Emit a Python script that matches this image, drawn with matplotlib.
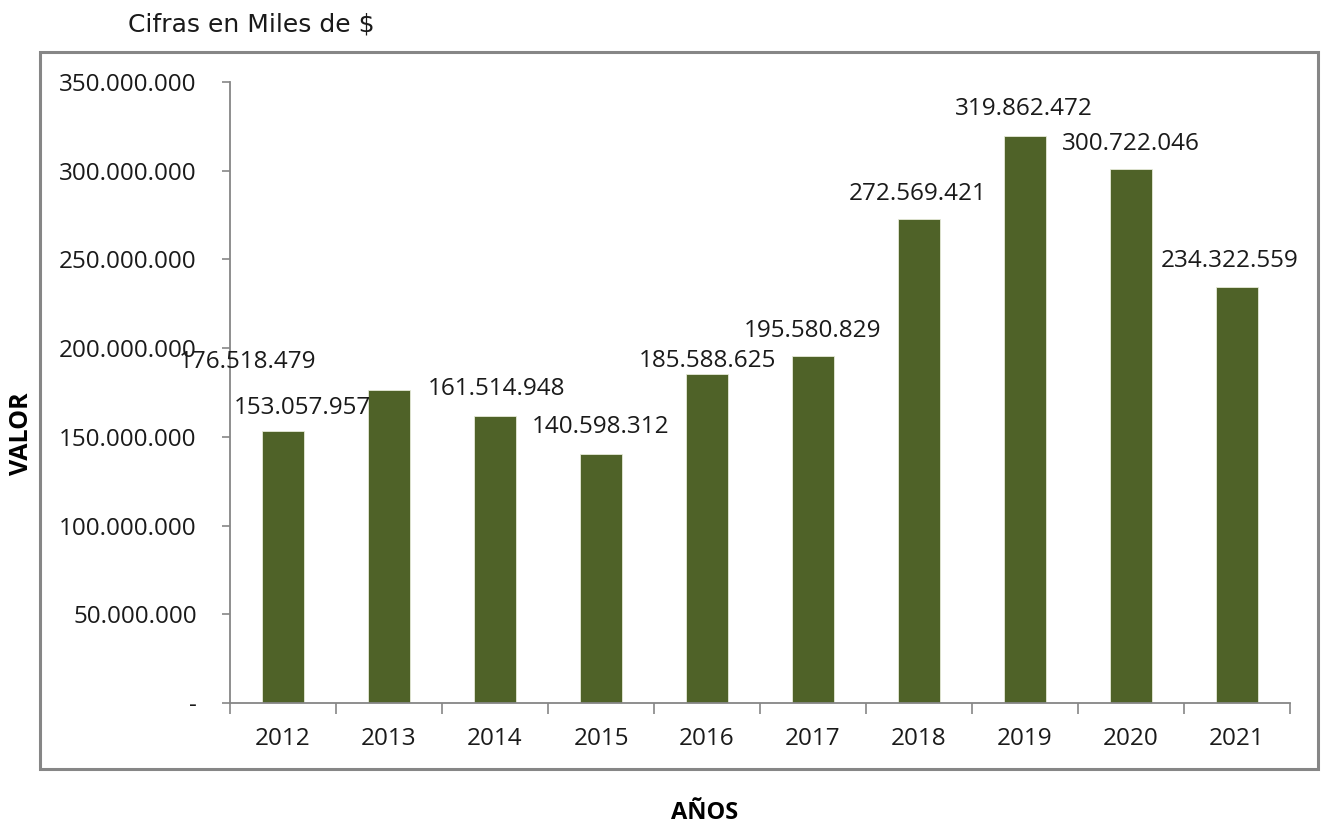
import matplotlib
matplotlib.use("Agg")
from matplotlib import pyplot as plt
from matplotlib.patches import Rectangle
from matplotlib.ticker import FuncFormatter
import numpy as np

anios = ["2012", "2013", "2014", "2015", "2016", "2017", "2018", "2019", "2020", "2021"]
valores = [153057957, 176518479, 161514948, 140598312, 185588625,
           195580829, 272569421, 319862472, 300722046, 234322559]

# desplazamiento manual de las etiquetas (puntos), como en el grafico original
etiq_dx = [14, -102, 1, 0, 0, 0, -1, -1, 0, -5]
etiq_dy = [17, 20, 20, 19, 9, 18, 18, 19, 18, 19]

plt.rcParams['font.family'] = ['Open Sans', 'DejaVu Sans']

fig = plt.figure(figsize=(13.25, 8.27), dpi=100)
ax = fig.add_axes([0.1736, 0.1499, 0.8, 0.7509])

x = np.arange(len(anios))
barras = ax.bar(x, valores, width=0.4, color='#4f6228', edgecolor='#e6ead8', linewidth=0.6)

for i, v in enumerate(valores):
    ax.annotate(f"{v:,}".replace(",", "."), (x[i], v), xytext=(etiq_dx[i], etiq_dy[i]),
                textcoords='offset points', ha='center', va='center',
                fontsize=17.5, color='#1a1a1a')

ax.set_xlim(-0.5, len(anios) - 0.5)
ax.set_ylim(0, 350000000)
ax.set_yticks(np.arange(0, 350000001, 50000000))
ax.yaxis.set_major_formatter(FuncFormatter(
    lambda v, p: "-" if v == 0 else f"{v:,.0f}".replace(",", ".")))

ax.set_xticks(np.arange(-0.5, len(anios), 1))
ax.set_xticklabels([])
ax.set_xticks(x, minor=True)
ax.set_xticklabels(anios, minor=True)
ax.tick_params(axis='x', which='major', length=8, width=1.2, color='#868686', direction='out')
ax.tick_params(axis='x', which='minor', length=0, pad=17, labelsize=17.5, labelcolor='#1a1a1a')
ax.tick_params(axis='y', length=6, width=1.2, color='#868686', direction='out',
               pad=18, labelsize=17.5, labelcolor='#1a1a1a')

for s in ['top', 'right']:
    ax.spines[s].set_visible(False)
for s in ['left', 'bottom']:
    ax.spines[s].set_color('#868686')
    ax.spines[s].set_linewidth(1.3)

# marco gris del area del grafico
fig.patches.append(Rectangle((0.0302, 0.0701), 0.9645, 0.867, transform=fig.transFigure,
                             fill=False, edgecolor='#868686', linewidth=2.2))

fig.text(0.0165, 0.475, "VALOR", rotation=90, ha='center', va='center',
         fontsize=18, fontweight='bold', color='black')
fig.text(0.532, 0.017, "AÑOS", ha='center', va='center',
         fontsize=17, fontweight='bold', color='black')
fig.text(0.0966, 0.97, "Cifras en Miles de $", ha='left', va='center',
         fontsize=18, color='#1a1a1a', family=['DejaVu Sans'])

fig.savefig("out.png", dpi=100)
